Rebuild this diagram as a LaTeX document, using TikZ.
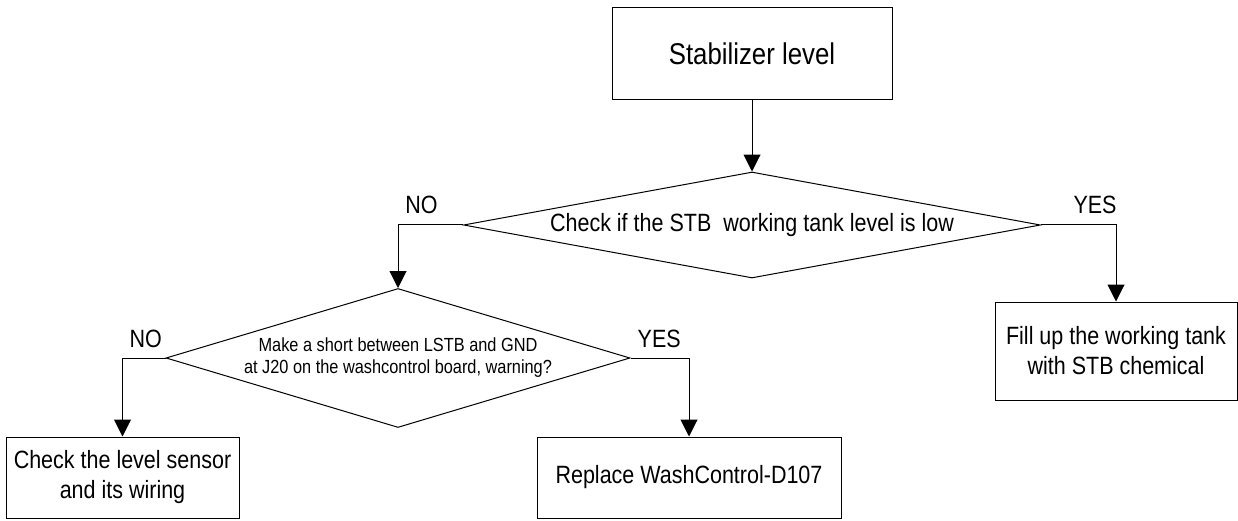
\documentclass[tikz,border=0pt]{standalone}
\usepackage{fontspec}
\setmainfont{Liberation Sans}[FakeStretch=0.86]
\usepackage{tikz}
\usetikzlibrary{arrows.meta,shapes.geometric}
\tikzset{>={Triangle[width=17pt,length=17pt]}}

\begin{document}
\begin{tikzpicture}[x=1pt,y=1pt,line width=1pt]
\tikzset{
  sbox/.style={
    draw,
    rectangle,
    inner sep=0pt,
    align=center,
    font=\fontsize{25}{30}\selectfont
  },
  sdia/.style={
    draw,
    diamond,
    inner sep=0pt,
    align=center,
    font=\fontsize{25}{30}\selectfont
  }
};

\tikzstyle{lab}=[anchor=base,yshift=11pt,inner sep=0pt,font=\fontsize{25}{30}\selectfont]

\useasboundingbox (0,0) rectangle (1238,520);

 \node[sbox,minimum width=280,minimum height=92,font=\fontsize{30}{36}\selectfont]
   (level) at (752,466) {Stabilizer level};
 \node[sdia,minimum width=577,minimum height=106,aspect=5.44]
   (low) at (752,295) {Check if the STB~ working tank level is low};
 \node[sdia,minimum width=464,minimum height=139,aspect=3.34,font=\fontsize{19}{22}\selectfont]
   (short) at (398,162) {Make a short between LSTB and GND\\at J20 on the washcontrol board, warning?};
 \node[sbox,minimum width=242,minimum height=98]
   (fill) at (1116,169) {Fill up the working tank\\with STB chemical};
 \node[sbox,minimum width=233,minimum height=81]
   (sensor) at (122.5,42.5) {Check the level sensor\\and its wiring};
 \node[sbox,minimum width=304,minimum height=81]
   (board) at (689,42.5) {Replace WashControl-D107};

  \draw[->] (level) -- (low);
  \draw[->] (low.west) -| (short.north) node[lab,pos=.32] {NO};
  \draw[->] (low.east) -| (fill.north) node[lab,pos=.36] {YES};
  \draw[->] (short.west) -| (sensor.north) node[lab,pos=.23] {NO};
  \draw[->] (short.east) -| (board.north) node[lab,pos=.245] {YES};
\end{tikzpicture}
\end{document}
